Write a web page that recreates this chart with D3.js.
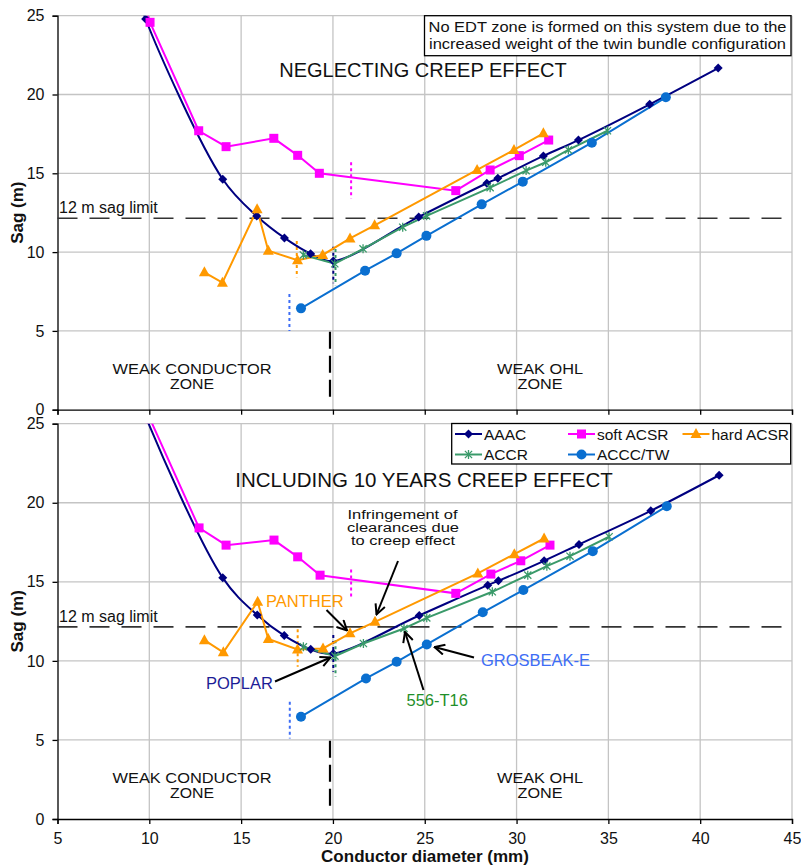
<!DOCTYPE html>
<html lang="en">
<head>
<meta charset="UTF-8">
<title>Sag vs conductor diameter</title>
<script src="https://cdn.jsdelivr.net/npm/d3@7"></script>
<style>
  body { margin: 0; background: #fff; }
  text { font-family: "Liberation Sans", Arial, sans-serif; }
</style>
</head>
<body>
<script>
// ---- data (diameter mm, sag m) ----
var xTicks = [5, 10, 15, 20, 25, 30, 35, 40, 45];
var yTicks = [0, 5, 10, 15, 20, 25];
var sagLimit = 12.15;

// neglecting creep
var aaacTop = [[9.45,26.2],[9.8,24.79],[14.0,14.62],[15.85,12.29],[17.36,10.9],[18.78,9.9],[20.02,9.43],[24.67,12.23],[28.38,14.37],[28.98,14.68],[31.46,16.1],[33.37,17.11],[37.25,19.38],[40.98,21.68]];
var softTop = [[9.6,26.2],[10.04,24.58],[12.69,17.7],[14.18,16.69],[16.78,17.22],[18.08,16.14],[19.26,15.0],[26.69,13.9],[28.56,15.21],[30.15,16.12],[31.75,17.11]];
var hardTop = [[13.0,8.72],[13.98,8.06],[15.87,12.72],[16.48,10.09],[18.07,9.48],[19.44,9.82],[20.93,10.87],[22.27,11.7],[27.85,15.21],[29.86,16.48],[31.46,17.54]];
var accrTop = [[18.39,9.82],[20.1,9.26],[21.64,10.21],[23.8,11.58],[25.1,12.3],[28.56,14.09],[30.52,15.17],[31.59,15.7],[32.82,16.48],[34.95,17.7]];
var acccTop = [[18.26,6.43],[21.75,8.82],[23.47,9.92],[25.09,11.03],[28.1,13.03],[30.34,14.47],[34.1,16.94],[38.13,19.82]];

// including 10 years creep
var aaacBot = [[9.45,26.6],[9.8,25.45],[14.0,15.25],[15.88,12.9],[17.35,11.6],[18.79,10.73],[20.02,10.47],[24.7,12.87],[28.43,14.79],[29.01,15.06],[31.5,16.33],[33.4,17.36],[37.31,19.49],[41.03,21.74]];
var softBot = [[9.6,26.9],[10.04,25.3],[12.71,18.41],[14.18,17.32],[16.79,17.64],[18.08,16.58],[19.3,15.42],[26.69,14.27],[28.6,15.49],[30.23,16.33],[31.82,17.32]];
var hardBot = [[13.0,11.31],[14.03,10.54],[15.9,13.74],[16.48,11.38],[18.07,10.72],[19.46,10.79],[20.93,11.74],[22.29,12.47],[27.89,15.53],[29.88,16.75],[31.5,17.74]];
var accrBot = [[18.39,10.89],[20.11,10.3],[21.66,11.1],[23.87,12.05],[25.11,12.72],[28.68,14.37],[30.61,15.42],[31.65,15.99],[32.91,16.62],[35.04,17.85]];
var acccBot = [[18.26,6.47],[21.8,8.89],[23.47,9.94],[25.11,11.04],[28.16,13.07],[30.37,14.48],[34.15,16.94],[38.18,19.78]];

// short dotted markers [diameter, sagFrom, sagTo]
var limitsTop = {accc:[17.63,7.34,5.0], hard:[18.03,10.7,8.4], aaac:[20.02,10.34,8.02], accr:[20.14,10.2,7.9], soft:[20.99,15.7,13.4]};
var limitsBot = {accc:[17.65,7.41,5.09], hard:[18.08,12.0,9.63], aaac:[20.02,11.63,9.31], accr:[20.14,11.3,9.0], soft:[20.99,15.78,14.05]};
var zoneSplit = [19.84, 4.95, 0.55];

var names = ["AAAC", "soft ACSR", "hard ACSR", "ACCR", "ACCC/TW"];
var keys = ["aaac", "soft", "hard", "accr", "accc"];

var style = {
    aaac: {color: "#000080", marker: "diamond"},
    soft: {color: "#ff00ff", marker: "square"},
    hard: {color: "#ff9900", marker: "triangle"},
    accr: {color: "#3a9a6a", marker: "star"},
    accc: {color: "#0a6fd0", marker: "circle"}
};

var width = 801, height = 867;
var svg = d3.select("body").append("svg")
    .attr("width", width).attr("height", height);

var defs = svg.append("defs");
defs.append("marker")
    .attr("id", "arrow")
    .attr("viewBox", "0 0 12 12")
    .attr("refX", 11).attr("refY", 6)
    .attr("markerWidth", 12).attr("markerHeight", 12)
    .attr("markerUnits", "userSpaceOnUse")
    .attr("orient", "auto")
    .append("path")
    .attr("d", "M1,1 L11,6 L1,11")
    .attr("fill", "none").attr("stroke", "#000").attr("stroke-width", 2);

var x = d3.scaleLinear().domain([5, 45]).range([57.5, 792]);

function drawMarker(g, type, px, py, color) {
    if (type === "diamond") {
        g.append("path").attr("d", "M" + px + "," + (py - 4.5) + "L" + (px + 4.5) + "," + py + "L" + px + "," + (py + 4.5) + "L" + (px - 4.5) + "," + py + "Z")
            .attr("fill", color);
    } else if (type === "square") {
        g.append("rect").attr("x", px - 4.5).attr("y", py - 4.5).attr("width", 9).attr("height", 9).attr("fill", color);
    } else if (type === "triangle") {
        g.append("path").attr("d", "M" + px + "," + (py - 6) + "L" + (px + 5.5) + "," + (py + 4) + "L" + (px - 5.5) + "," + (py + 4) + "Z")
            .attr("fill", color);
    } else if (type === "circle") {
        g.append("circle").attr("cx", px).attr("cy", py).attr("r", 5).attr("fill", color);
    } else if (type === "star") {
        var s = 4.5, d = 3.6;
        g.append("path").attr("d",
            "M" + px + "," + (py - s) + "L" + px + "," + (py + s) +
            "M" + (px - d) + "," + (py - d) + "L" + (px + d) + "," + (py + d) +
            "M" + (px - d) + "," + (py + d) + "L" + (px + d) + "," + (py - d))
            .attr("stroke", color).attr("stroke-width", 1.3).attr("fill", "none");
    }
}

// text stretched to the width it has in the picture
function fitText(g, tx, ty, str, size, len, color) {
    return g.append("text").attr("x", tx).attr("y", ty).attr("text-anchor", "middle")
        .attr("font-size", size).attr("fill", color || "#111")
        .attr("textLength", len).attr("lengthAdjust", "spacingAndGlyphs")
        .text(str);
}

function drawPanel(id, yRange, series, limits, showXLabels) {
    var y = d3.scaleLinear().domain([0, 25]).range(yRange);
    var g = svg.append("g");

    defs.append("clipPath").attr("id", "clip" + id)
        .append("rect")
        .attr("x", x(5)).attr("y", y(25))
        .attr("width", x(45) - x(5)).attr("height", y(0) - y(25));

    // grid
    g.selectAll(".vg").data(xTicks.slice(1)).enter().append("line")
        .attr("x1", d => x(d)).attr("x2", d => x(d))
        .attr("y1", y(0)).attr("y2", y(25))
        .attr("stroke", "#c4c4c4").attr("stroke-width", 1.3);
    g.selectAll(".hg").data(yTicks.slice(1)).enter().append("line")
        .attr("x1", x(5)).attr("x2", x(45))
        .attr("y1", d => y(d)).attr("y2", d => y(d))
        .attr("stroke", "#c4c4c4").attr("stroke-width", 1.3);

    // axes
    var yAxis = d3.axisLeft(y).tickValues(yTicks).tickSize(5).tickPadding(8).tickFormat(d3.format("d"));
    var ya = g.append("g").attr("transform", "translate(" + x(5) + ",0)").call(yAxis);
    var xAxis = d3.axisBottom(x).tickValues(xTicks).tickSize(5).tickPadding(9)
        .tickFormat(showXLabels ? d3.format("d") : "");
    var xa = g.append("g").attr("transform", "translate(0," + y(0) + ")").call(xAxis);
    [ya, xa].forEach(function (a) {
        a.select(".domain").attr("stroke", "#000").attr("stroke-width", 1.3);
        a.selectAll(".tick line").attr("stroke", "#000").attr("stroke-width", 1.3);
        a.selectAll("text").attr("font-size", 16).attr("fill", "#111")
            .attr("font-family", "Liberation Sans, Arial, sans-serif");
    });

    // sag limit
    g.append("line")
        .attr("x1", x(5)).attr("x2", x(45))
        .attr("y1", y(sagLimit)).attr("y2", y(sagLimit))
        .attr("stroke", "#333").attr("stroke-width", 1.6)
        .attr("stroke-dasharray", "20,12");
    g.append("text").attr("x", 59).attr("y", y(sagLimit) - 5)
        .attr("font-size", 16).attr("fill", "#111").text("12 m sag limit");

    // zone separator
    g.append("line")
        .attr("x1", x(zoneSplit[0])).attr("x2", x(zoneSplit[0]))
        .attr("y1", y(zoneSplit[1])).attr("y2", y(zoneSplit[2]))
        .attr("stroke", "#000").attr("stroke-width", 2.2)
        .attr("stroke-dasharray", "17,7");

    // zone labels
    fitText(g, 192, y(2.28), "WEAK CONDUCTOR", 14, 159);
    fitText(g, 192, y(1.33), "ZONE", 14, 44);
    fitText(g, 540, y(2.28), "WEAK OHL", 14, 86);
    fitText(g, 540, y(1.33), "ZONE", 14, 45);

    // dotted limit markers
    keys.forEach(function (k) {
        var l = limits[k];
        g.append("line")
            .attr("x1", x(l[0])).attr("x2", x(l[0]))
            .attr("y1", y(l[1])).attr("y2", y(l[2]))
            .attr("stroke", k === "accc" ? "#3d6df5" : style[k].color)
            .attr("stroke-width", 2).attr("stroke-dasharray", "3,3");
    });

    // series
    var plot = g.append("g").attr("clip-path", "url(#clip" + id + ")");
    keys.forEach(function (k, i) {
        var pts = series[i];
        var line = d3.line()
            .x(d => x(d[0])).y(d => y(d[1]))
            .curve(k === "aaac" ? d3.curveCatmullRom.alpha(0.5) : d3.curveLinear);
        plot.append("path").datum(pts)
            .attr("d", line)
            .attr("fill", "none")
            .attr("stroke", style[k].color)
            .attr("stroke-width", 2);
    });
    keys.forEach(function (k, i) {
        series[i].forEach(function (d) {
            drawMarker(plot, style[k].marker, x(d[0]), y(d[1]), style[k].color);
        });
    });

    return y;
}

var yTop = drawPanel("top", [409.7, 15.7], [aaacTop, softTop, hardTop, accrTop, acccTop], limitsTop, false);
var yBot = drawPanel("bot", [819, 423.7], [aaacBot, softBot, hardBot, accrBot, acccBot], limitsBot, true);

// axis titles
svg.append("text").attr("x", 425).attr("y", 862).attr("text-anchor", "middle")
    .attr("font-size", 17).attr("font-weight", "bold").attr("fill", "#111")
    .text("Conductor diameter (mm)");
[yTop, yBot].forEach(function (y) {
    svg.append("text")
        .attr("transform", "translate(23," + y(12.5) + ") rotate(-90)")
        .attr("text-anchor", "middle")
        .attr("font-size", 17).attr("font-weight", "bold").attr("fill", "#111")
        .text("Sag (m)");
});

// top panel titles
svg.append("text").attr("x", 423).attr("y", 77).attr("text-anchor", "middle")
    .attr("font-size", 20).attr("fill", "#111").text("NEGLECTING CREEP EFFECT");
svg.append("rect").attr("x", 424.5).attr("y", 15.7).attr("width", 366.5).attr("height", 40)
    .attr("fill", "#fff").attr("stroke", "#000").attr("stroke-width", 1.3);
fitText(svg, 607.5, 32, "No EDT zone is formed on this system due to the", 15.5, 358);
fitText(svg, 607.5, 48.5, "increased weight of the twin bundle configuration", 15.5, 357);

// bottom panel titles
svg.append("text").attr("x", 424).attr("y", 487).attr("text-anchor", "middle")
    .attr("font-size", 20.5).attr("fill", "#111").text("INCLUDING 10 YEARS CREEP EFFECT");

// legend
var lg = svg.append("g");
lg.append("rect").attr("x", 451.7).attr("y", 423.5).attr("width", 339).attr("height", 40.5)
    .attr("fill", "#fff").attr("stroke", "#000").attr("stroke-width", 1.3);
var legPos = [[455, 434], [568, 434], [682.5, 434], [455, 454.5], [568, 454.5]];
keys.forEach(function (k, i) {
    var p = legPos[i];
    lg.append("line").attr("x1", p[0]).attr("x2", p[0] + 27).attr("y1", p[1]).attr("y2", p[1])
        .attr("stroke", style[k].color).attr("stroke-width", 2);
    drawMarker(lg, style[k].marker, p[0] + 13.5, p[1], style[k].color);
    lg.append("text").attr("x", p[0] + 29).attr("y", p[1] + 5.5)
        .attr("font-size", 15.5).attr("fill", "#111").text(names[i]);
});

// annotations (bottom panel)
var ann = svg.append("g");
fitText(ann, 402.5, 518.5, "Infringement of", 12.5, 110);
fitText(ann, 403, 531.5, "clearances due", 12.5, 112);
fitText(ann, 403, 544.5, "to creep effect", 12.5, 104);
ann.append("text").attr("x", 266).attr("y", 607).attr("font-size", 16.5).attr("fill", "#ff9900").text("PANTHER");
ann.append("text").attr("x", 206).attr("y", 688.5).attr("font-size", 16.5).attr("fill", "#1c1c96").text("POPLAR");
ann.append("text").attr("x", 481).attr("y", 666).attr("font-size", 16.5).attr("fill", "#3d6df5").text("GROSBEAK-E");
ann.append("text").attr("x", 406.5).attr("y", 706).attr("font-size", 16.5).attr("fill", "#1f8f2a").text("556-T16");

var arrows = [
    [398, 561, 376.5, 614.5],
    [326.5, 610, 347, 630.5],
    [275, 681.5, 330.5, 657.5],
    [474, 657.5, 434.5, 647],
    [423.5, 690, 405, 632]
];
ann.selectAll(".arr").data(arrows).enter().append("line")
    .attr("x1", d => d[0]).attr("y1", d => d[1])
    .attr("x2", d => d[2]).attr("y2", d => d[3])
    .attr("stroke", "#000").attr("stroke-width", 2)
    .attr("marker-end", "url(#arrow)");
</script>
</body>
</html>
